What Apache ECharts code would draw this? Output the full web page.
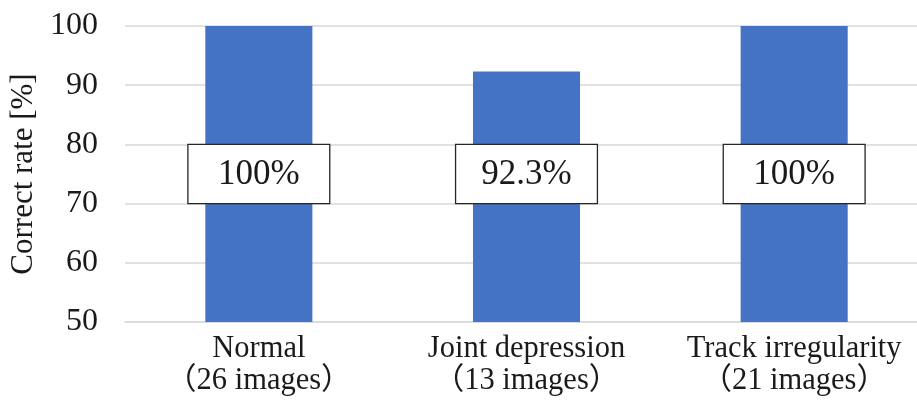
<!DOCTYPE html>
<html>
<head>
<meta charset="utf-8">
<script src="https://cdn.jsdelivr.net/npm/echarts@6/dist/echarts.min.js"></script>
<style>
  html, body { margin: 0; padding: 0; background: #ffffff; overflow: hidden; }
  #chart { width: 917px; height: 400px; }
</style>
</head>
<body>
<div id="chart"></div>
<script>
// Recognition accuracy per image category
const categories = ['Normal', 'Joint depression', 'Track irregularity'];
const imageCounts = [26, 13, 21];
const correctRates = [100, 92.3, 100];
const rateLabels = ['100%', '92.3%', '100%'];
const yTicks = [50, 60, 70, 80, 90, 100];
// the rate boxes span this value band on the y axis
const labelBand = [70, 80];

const serif = '"Liberation Serif", "Times New Roman", "Noto Sans CJK JP", serif';

const chart = echarts.init(document.getElementById('chart'), null, { renderer: 'canvas' });

chart.setOption({
  animation: false,
  backgroundColor: '#ffffff',
  // the plot area runs a little past the right edge of the canvas
  grid: { left: 125, top: 26, width: 803, bottom: 78, containLabel: false, outerBoundsMode: 'none' },
  xAxis: {
    type: 'category',
    data: categories.map((c, i) => c + '\n（' + imageCounts[i] + ' images）'),
    axisLine: { show: true, lineStyle: { color: '#d9d9d9', width: 1.5 } },
    axisTick: { show: false },
    axisLabel: {
      color: '#1a1a1a',
      fontFamily: serif,
      fontSize: 30.5,
      lineHeight: 32,
      margin: 11,
      interval: 0
    }
  },
  yAxis: {
    type: 'value',
    min: yTicks[0],
    max: yTicks[yTicks.length - 1],
    interval: 10,
    name: 'Correct rate [%]',
    nameLocation: 'middle',
    nameGap: 86,
    nameRotate: 90,
    nameTextStyle: { color: '#1a1a1a', fontFamily: serif, fontSize: 31 },
    axisLine: { show: false },
    axisTick: { show: false },
    axisLabel: { color: '#1a1a1a', fontFamily: serif, fontSize: 32, margin: 27 },
    splitLine: { show: true, lineStyle: { color: '#d9d9d9', width: 1.5 } }
  },
  series: [
    {
      type: 'bar',
      data: correctRates,
      barWidth: '40%',
      itemStyle: { color: '#4472c4' },
      z: 2
    },
    {
      // boxed percentage labels, drawn across the 70–80 band of each bar
      type: 'custom',
      data: correctRates.map((v, i) => [i, v]),
      silent: true,
      z: 5,
      renderItem: (params, api) => {
        const idx = api.value(0);
        const top = api.coord([idx, labelBand[1]]);
        const bottom = api.coord([idx, labelBand[0]]);
        const boxW = api.size([1, 0])[0] * 0.53;
        const h = bottom[1] - top[1];
        return {
          type: 'group',
          children: [
            {
              type: 'rect',
              shape: { x: top[0] - boxW / 2, y: top[1], width: boxW, height: h },
              style: { fill: '#ffffff', stroke: '#262626', lineWidth: 1.3 }
            },
            {
              type: 'text',
              style: {
                x: top[0],
                y: top[1] + h / 2 + 1,
                text: rateLabels[params.dataIndex],
                fill: '#1a1a1a',
                font: '35px ' + serif,
                align: 'center',
                verticalAlign: 'middle'
              }
            }
          ]
        };
      }
    }
  ]
});
</script>
</body>
</html>
